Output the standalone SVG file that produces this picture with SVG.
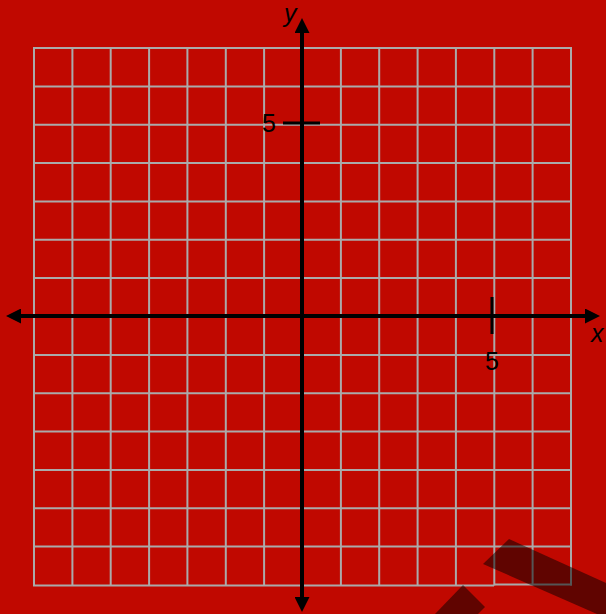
<svg xmlns="http://www.w3.org/2000/svg" width="606" height="614" viewBox="0 0 606 614">
<style>
.grid line{stroke:#aaaaaa;stroke-width:2}
.axis{stroke:#000;stroke-width:4}
.tick{stroke:#000;stroke-width:3}
.lbl{font-family:"Liberation Sans",Arial,sans-serif;font-size:25px;fill:#000}
.it{font-style:italic}
</style>
<defs>
<marker id="ah" viewBox="0 0 15 15" refX="0" refY="7.5" markerWidth="15" markerHeight="15" markerUnits="userSpaceOnUse" orient="auto">
<path d="M0,0 L15,7.5 L0,15 Z" fill="#000"/>
</marker>
</defs>
<rect width="606" height="614" fill="#c00800"/>
<g id="grid" class="grid">
<line x1="34" y1="48" x2="34" y2="585.5"/>
<line x1="72.4" y1="48" x2="72.4" y2="585.5"/>
<line x1="110.7" y1="48" x2="110.7" y2="585.5"/>
<line x1="149.1" y1="48" x2="149.1" y2="585.5"/>
<line x1="187.4" y1="48" x2="187.4" y2="585.5"/>
<line x1="225.8" y1="48" x2="225.8" y2="585.5"/>
<line x1="264.1" y1="48" x2="264.1" y2="585.5"/>
<line x1="340.9" y1="48" x2="340.9" y2="585.5"/>
<line x1="379.2" y1="48" x2="379.2" y2="585.5"/>
<line x1="417.6" y1="48" x2="417.6" y2="585.5"/>
<line x1="455.9" y1="48" x2="455.9" y2="585.5"/>
<line x1="494.3" y1="48" x2="494.3" y2="585.5"/>
<line x1="532.6" y1="48" x2="532.6" y2="585.5"/>
<line x1="571" y1="48" x2="571" y2="585.5"/>
<line x1="33" y1="48" x2="572" y2="48"/>
<line x1="33" y1="86.4" x2="572" y2="86.4"/>
<line x1="33" y1="124.7" x2="572" y2="124.7"/>
<line x1="33" y1="163.1" x2="572" y2="163.1"/>
<line x1="33" y1="201.4" x2="572" y2="201.4"/>
<line x1="33" y1="239.8" x2="572" y2="239.8"/>
<line x1="33" y1="278.1" x2="572" y2="278.1"/>
<line x1="33" y1="354.9" x2="572" y2="354.9"/>
<line x1="33" y1="393.2" x2="572" y2="393.2"/>
<line x1="33" y1="431.6" x2="572" y2="431.6"/>
<line x1="33" y1="469.9" x2="572" y2="469.9"/>
<line x1="33" y1="508.3" x2="572" y2="508.3"/>
<line x1="33" y1="546.6" x2="572" y2="546.6"/>
<line x1="33" y1="585.5" x2="494" y2="585.5"/>
<line x1="494" y1="584.5" x2="572" y2="584.5"/>
</g>
<g id="axes">
<line class="axis" x1="302" y1="316" x2="585" y2="316" marker-end="url(#ah)"/>
<line class="axis" x1="302" y1="316" x2="21" y2="316" marker-end="url(#ah)"/>
<line class="axis" x1="302" y1="316" x2="302" y2="33" marker-end="url(#ah)"/>
<line class="axis" x1="302" y1="316" x2="302" y2="597" marker-end="url(#ah)"/>
</g>
<g id="ticks">
<line class="tick" x1="283" y1="123" x2="320" y2="123"/>
<line class="tick" x1="492" y1="297" x2="492" y2="334"/>
</g>
<g id="labels">
<text class="lbl" x="262" y="132">5</text>
<text class="lbl" x="485" y="370">5</text>
<text class="lbl it" x="284" y="22">y</text>
<text class="lbl it" x="591" y="342">x</text>
</g>
<g id="shadows" fill="#000" fill-opacity="0.5">
<polygon points="483,564 509,539 606,583 606,614 597,614"/>
<polygon points="463,585 485,607 478,614 435,614"/>
</g>
</svg>
